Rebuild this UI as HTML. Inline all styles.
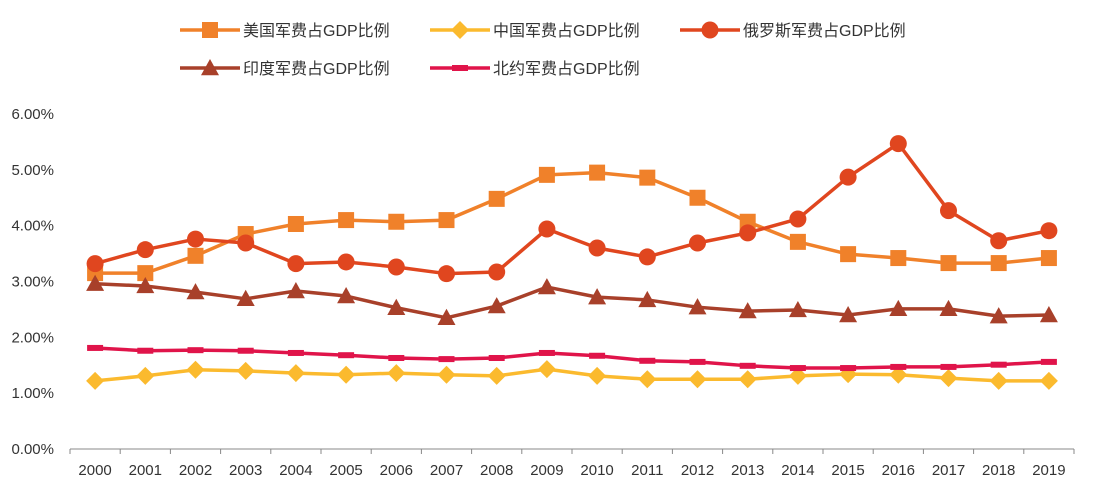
<!DOCTYPE html>
<html><head><meta charset="utf-8">
<style>
body{margin:0;background:#fff;}
svg{display:block;font-family:"Liberation Sans","Noto Sans CJK SC",sans-serif;}
</style></head>
<body>
<svg id="chart" width="1097" height="483" viewBox="0 0 1097 483" xmlns="http://www.w3.org/2000/svg"></svg>
<script>
const years=["2000","2001","2002","2003","2004","2005","2006","2007","2008","2009","2010","2011","2012","2013","2014","2015","2016","2017","2018","2019"];
const usValues=[3.15,3.15,3.46,3.85,4.03,4.10,4.07,4.10,4.48,4.91,4.95,4.86,4.50,4.07,3.71,3.49,3.42,3.33,3.33,3.42];
const chinaValues=[1.22,1.31,1.42,1.40,1.36,1.33,1.36,1.33,1.31,1.43,1.31,1.25,1.25,1.25,1.31,1.34,1.33,1.27,1.22,1.22];
const russiaValues=[3.32,3.57,3.76,3.69,3.32,3.35,3.26,3.14,3.17,3.94,3.60,3.44,3.69,3.87,4.12,4.87,5.47,4.27,3.73,3.91];
const indiaValues=[2.96,2.92,2.81,2.69,2.83,2.74,2.53,2.35,2.56,2.90,2.72,2.67,2.54,2.47,2.49,2.40,2.51,2.51,2.38,2.40];
const natoValues=[1.81,1.76,1.77,1.76,1.72,1.68,1.63,1.61,1.63,1.72,1.67,1.58,1.56,1.49,1.45,1.45,1.47,1.47,1.51,1.56];
const yTicks=[0,1,2,3,4,5,6];
const seriesNames=["美国军费占GDP比例","中国军费占GDP比例","俄罗斯军费占GDP比例","印度军费占GDP比例","北约军费占GDP比例"];

const NS="http://www.w3.org/2000/svg";
const svg=document.getElementById('chart');
const x0=70,x1=1074,y0=449,yTop=114,yMax=6;
const band=(x1-x0)/years.length;
const xs=i=>x0+band*(i+0.5);
const ys=v=>y0-(v/yMax)*(y0-yTop);
function mk(tag,attrs,parent){const e=document.createElementNS(NS,tag);for(const k in attrs)e.setAttribute(k,attrs[k]);(parent||svg).appendChild(e);return e;}

// y axis labels
yTicks.forEach(t=>{
  const tx=mk('text',{x:54,y:ys(t)+5,'text-anchor':'end','font-size':15,fill:'#333'});
  tx.textContent=t.toFixed(2)+'%';
  
  
});
// x axis
const ax=mk('line',{x1:x0,y1:y0,x2:x1,y2:y0,stroke:'#888','stroke-width':1});


for(let i=0;i<=years.length;i++){
  const tk=mk('line',{x1:x0+band*i,y1:y0,x2:x0+band*i,y2:y0+5,stroke:'#888'});
  
  
}
years.forEach((y,i)=>{
  const tx=mk('text',{x:xs(i),y:475,'text-anchor':'middle','font-size':15,fill:'#333'});
  tx.textContent=y;
  
  
});

function marker(shape,cx,cy,color,g,s){
  let m;
  if(shape==='square')m=mk('rect',{x:cx-s,y:cy-s,width:2*s,height:2*s,fill:color},g);
  else if(shape==='diamond')m=mk('polygon',{points:`${cx},${cy-s} ${cx+s},${cy} ${cx},${cy+s} ${cx-s},${cy}`,fill:color},g);
  else if(shape==='circle')m=mk('circle',{cx:cx,cy:cy,r:s,fill:color},g);
  else if(shape==='triangle')m=mk('polygon',{points:`${cx},${cy-s} ${cx+s},${cy+s*0.8} ${cx-s},${cy+s*0.8}`,fill:color},g);
  else m=mk('rect',{x:cx-s,y:cy-3,width:2*s,height:6,fill:color},g);
  return m;
}
const series=[
 {vals:usValues,color:'#F0812A',shape:'square',size:8,name:'us'},
 {vals:chinaValues,color:'#FBBA2E',shape:'diamond',size:9,name:'china'},
 {vals:russiaValues,color:'#E0461F',shape:'circle',size:8.5,name:'russia'},
 {vals:indiaValues,color:'#A8402A',shape:'triangle',size:9,name:'india'},
 {vals:natoValues,color:'#E0144A',shape:'dash',size:8,name:'nato'}
];
series.forEach(s=>{
  const g=mk('g',{});
  
  
  const pl=mk('polyline',{points:s.vals.map((v,i)=>xs(i)+','+ys(v)).join(' '),fill:'none',stroke:s.color,'stroke-width':3.5,'stroke-linejoin':'round'},g);
  
  
  s.vals.forEach((v,i)=>{
    const m=marker(s.shape,xs(i),ys(v),s.color,g,s.size);
    
    
  });
});
// legend
const legPos=[[180,30],[430,30],[680,30],[180,68],[430,68]];
series.forEach((s,k)=>{
  const [lx,ly]=legPos[k];
  const g=mk('g',{});
  
  
  mk('line',{x1:lx,y1:ly,x2:lx+60,y2:ly,stroke:s.color,'stroke-width':3.5},g);
  marker(s.shape,lx+30,ly,s.color,g,s.size);
  const t=mk('text',{x:lx+63,y:ly+6,'font-size':16,fill:'#333'},g);
  t.textContent=seriesNames[k];
});
</script>
</body></html>
